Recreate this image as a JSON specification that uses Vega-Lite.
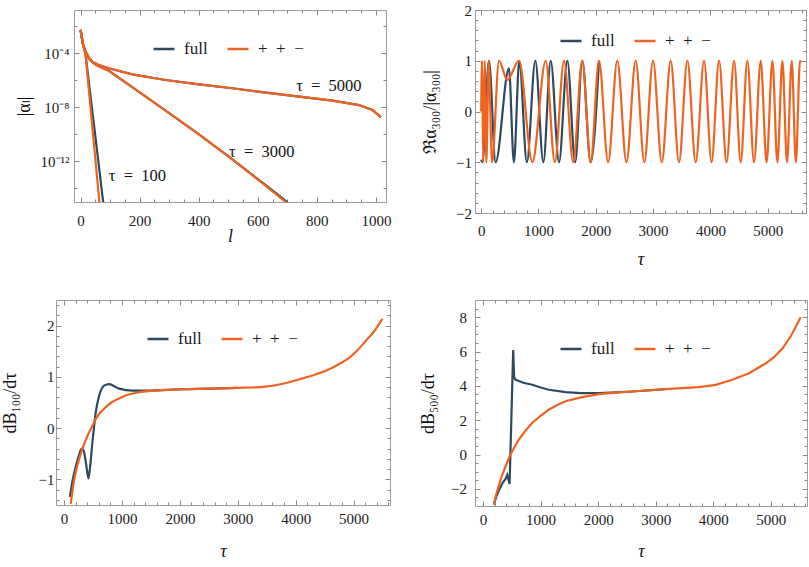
{
"$schema": "https://vega.github.io/schema/vega-lite/v6.json",
"padding": {"left": 0, "top": 2, "right": 0, "bottom": 0},
"spacing": 30,
"resolve": {"scale": {"color": "independent"}, "legend": {"color": "independent"}},
"config": {
  "view": {"stroke": "#9d9d9d", "strokeWidth": 1},
  "axis": {"domain": false, "grid": false, "zindex": 2, "ticks": true, "tickColor": "#888888", "tickWidth": 1, "labelFont": "Liberation Serif", "labelFontSize": 15, "labelColor": "#1a1a1a", "titleFont": "Liberation Serif", "titleFontSize": 18, "titleFontWeight": "normal", "titleColor": "#111111", "labelFlush": false, "labelOverlap": false},
  "legend": {"orient": "none", "direction": "horizontal", "title": null, "symbolType": "stroke", "symbolSize": 440, "symbolStrokeWidth": 2.5, "labelFont": "Liberation Serif", "labelFontSize": 17, "labelColor": "#1a1a1a", "labelOffset": 8, "columnPadding": 14}
},
"vconcat": [
 {"spacing": 0, "resolve": {"scale": {"color": "independent"}, "legend": {"color": "independent"}}, "hconcat": [
  {"width": 14, "height": 1, "data": {"values": []}, "mark": "point", "view": {"stroke": null}},
  {"width": 312, "height": 192,
   "data": {"values": [
    {"s":"full","tau":100,"l":0,"v":5.37e-3},{"s":"full","tau":100,"l":3,"v":2.51e-3},{"s":"full","tau":100,"l":8,"v":5.01e-4},{"s":"full","tau":100,"l":17,"v":8.51e-5},{"s":"full","tau":100,"l":30,"v":3.55e-7},{"s":"full","tau":100,"l":50,"v":7.94e-11},{"s":"full","tau":100,"l":80,"v":2.51e-16},
    {"s":"full","tau":3000,"l":0,"v":5.37e-3},{"s":"full","tau":3000,"l":3,"v":2.51e-3},{"s":"full","tau":3000,"l":8,"v":5.01e-4},{"s":"full","tau":3000,"l":17,"v":1.2e-4},{"s":"full","tau":3000,"l":28,"v":4.27e-5},{"s":"full","tau":3000,"l":45,"v":1.78e-5},{"s":"full","tau":3000,"l":60,"v":1.12e-5},{"s":"full","tau":3000,"l":96,"v":5.01e-6},{"s":"full","tau":3000,"l":175,"v":3.16e-7},{"s":"full","tau":3000,"l":288,"v":5.62e-9},{"s":"full","tau":3000,"l":401,"v":1e-10},{"s":"full","tau":3000,"l":514,"v":1.41e-12},{"s":"full","tau":3000,"l":627,"v":1.78e-14},{"s":"full","tau":3000,"l":700,"v":1e-15},
    {"s":"full","tau":5000,"l":0,"v":5.37e-3},{"s":"full","tau":5000,"l":3,"v":2.51e-3},{"s":"full","tau":5000,"l":8,"v":5.01e-4},{"s":"full","tau":5000,"l":17,"v":1.35e-4},{"s":"full","tau":5000,"l":28,"v":5.01e-5},{"s":"full","tau":5000,"l":39,"v":2.4e-5},{"s":"full","tau":5000,"l":60,"v":1.41e-5},{"s":"full","tau":5000,"l":96,"v":7.76e-6},{"s":"full","tau":5000,"l":175,"v":2.75e-6},{"s":"full","tau":5000,"l":288,"v":1.05e-6},{"s":"full","tau":5000,"l":401,"v":5.01e-7},{"s":"full","tau":5000,"l":514,"v":2.57e-7},{"s":"full","tau":5000,"l":627,"v":1.23e-7},{"s":"full","tau":5000,"l":740,"v":6.17e-8},{"s":"full","tau":5000,"l":853,"v":3.16e-8},{"s":"full","tau":5000,"l":943,"v":1.48e-8},{"s":"full","tau":5000,"l":988,"v":6.31e-9},{"s":"full","tau":5000,"l":1011,"v":2.45e-9},{"s":"full","tau":5000,"l":1016,"v":1.78e-9},
    {"s":"+\u2002+\u2002\u2212","tau":100,"l":0,"v":5.37e-3},{"s":"+\u2002+\u2002\u2212","tau":100,"l":3,"v":2.51e-3},{"s":"+\u2002+\u2002\u2212","tau":100,"l":8,"v":5.01e-4},{"s":"+\u2002+\u2002\u2212","tau":100,"l":17,"v":8.51e-5},{"s":"+\u2002+\u2002\u2212","tau":100,"l":30,"v":7.94e-8},{"s":"+\u2002+\u2002\u2212","tau":100,"l":45,"v":2.51e-11},{"s":"+\u2002+\u2002\u2212","tau":100,"l":66,"v":3.16e-16},
    {"s":"+\u2002+\u2002\u2212","tau":3000,"l":0,"v":5.37e-3},{"s":"+\u2002+\u2002\u2212","tau":3000,"l":3,"v":2.51e-3},{"s":"+\u2002+\u2002\u2212","tau":3000,"l":8,"v":5.01e-4},{"s":"+\u2002+\u2002\u2212","tau":3000,"l":17,"v":1.2e-4},{"s":"+\u2002+\u2002\u2212","tau":3000,"l":28,"v":4.27e-5},{"s":"+\u2002+\u2002\u2212","tau":3000,"l":45,"v":1.78e-5},{"s":"+\u2002+\u2002\u2212","tau":3000,"l":60,"v":1.12e-5},{"s":"+\u2002+\u2002\u2212","tau":3000,"l":96,"v":5.01e-6},{"s":"+\u2002+\u2002\u2212","tau":3000,"l":175,"v":3.16e-7},{"s":"+\u2002+\u2002\u2212","tau":3000,"l":288,"v":5.62e-9},{"s":"+\u2002+\u2002\u2212","tau":3000,"l":401,"v":1e-10},{"s":"+\u2002+\u2002\u2212","tau":3000,"l":514,"v":1.41e-12},{"s":"+\u2002+\u2002\u2212","tau":3000,"l":627,"v":1.58e-14},{"s":"+\u2002+\u2002\u2212","tau":3000,"l":700,"v":7.94e-16},
    {"s":"+\u2002+\u2002\u2212","tau":5000,"l":0,"v":5.37e-3},{"s":"+\u2002+\u2002\u2212","tau":5000,"l":3,"v":2.51e-3},{"s":"+\u2002+\u2002\u2212","tau":5000,"l":8,"v":5.01e-4},{"s":"+\u2002+\u2002\u2212","tau":5000,"l":17,"v":1.35e-4},{"s":"+\u2002+\u2002\u2212","tau":5000,"l":28,"v":5.01e-5},{"s":"+\u2002+\u2002\u2212","tau":5000,"l":39,"v":2.4e-5},{"s":"+\u2002+\u2002\u2212","tau":5000,"l":60,"v":1.41e-5},{"s":"+\u2002+\u2002\u2212","tau":5000,"l":96,"v":7.76e-6},{"s":"+\u2002+\u2002\u2212","tau":5000,"l":175,"v":2.75e-6},{"s":"+\u2002+\u2002\u2212","tau":5000,"l":288,"v":1.05e-6},{"s":"+\u2002+\u2002\u2212","tau":5000,"l":401,"v":5.01e-7},{"s":"+\u2002+\u2002\u2212","tau":5000,"l":514,"v":2.57e-7},{"s":"+\u2002+\u2002\u2212","tau":5000,"l":627,"v":1.23e-7},{"s":"+\u2002+\u2002\u2212","tau":5000,"l":740,"v":6.17e-8},{"s":"+\u2002+\u2002\u2212","tau":5000,"l":853,"v":3.16e-8},{"s":"+\u2002+\u2002\u2212","tau":5000,"l":943,"v":1.48e-8},{"s":"+\u2002+\u2002\u2212","tau":5000,"l":988,"v":6.31e-9},{"s":"+\u2002+\u2002\u2212","tau":5000,"l":1011,"v":2.45e-9},{"s":"+\u2002+\u2002\u2212","tau":5000,"l":1016,"v":1.78e-9}
   ]},
   "layer": [
    {"mark": {"type": "line", "strokeWidth": 2.2, "clip": true},
     "encoding": {
      "x": {"field": "l", "type": "quantitative", "scale": {"domain": [-22, 1034], "nice": false, "zero": false},
            "axis": {"orient": "bottom", "offset": -5, "values": [0,200,400,600,800,1000], "labelExpr": "'' + datum.value", "tickSize": 5, "labelPadding": 11, "title": "l", "titleFontStyle": "italic", "titlePadding": 9, "minExtent": 21, "maxExtent": 21}},
      "y": {"field": "v", "type": "quantitative", "scale": {"type": "log", "domain": [1e-15, 0.158], "nice": false},
            "axis": {"orient": "left", "offset": -5, "values": [1e-12,1e-8,1e-4], "labelExpr": "round(log(datum.value)/LN10) == -4 ? '10\u207b\u2074' : round(log(datum.value)/LN10) == -8 ? '10\u207b\u2078' : '10\u207b\u00b9\u00b2'", "tickSize": 5, "labelPadding": 5, "title": "|\u03b1\u2097|", "titleFont": "Liberation Serif, DejaVu Sans, Noto Sans", "titlePadding": 1, "minExtent": 45, "maxExtent": 45}},
      "color": {"field": "s", "type": "nominal", "scale": {"domain": ["full", "+\u2002+\u2002\u2212"], "range": ["#2e4a5f", "#ef6321"]}, "legend": {"legendX": 78, "legendY": 27}},
      "detail": {"field": "tau"}
     }},
    {"mark": {"type": "point", "opacity": 0},
     "encoding": {
      "x": {"field": "l", "type": "quantitative", "scale": {"domain": [-22, 1034], "nice": false, "zero": false},
            "axis": {"orient": "top", "offset": -5, "values": [0,200,400,600,800,1000], "labels": false, "title": null, "tickSize": 5, "minExtent": 0, "maxExtent": 0}},
      "y": {"field": "v", "type": "quantitative", "scale": {"type": "log", "domain": [1e-15, 0.158], "nice": false},
            "axis": {"orient": "right", "offset": -5, "values": [1e-12,1e-8,1e-4], "labels": false, "title": null, "tickSize": 5, "minExtent": 38.8, "maxExtent": 38.8}}
     }},
    {"mark": {"type": "point", "opacity": 0},
     "encoding": {
      "x": {"field": "l", "type": "quantitative", "scale": {"domain": [-22, 1034], "nice": false, "zero": false},
            "axis": {"orient": "bottom", "offset": -3, "values": [50,100,150,250,300,350,450,500,550,650,700,750,850,900,950], "labels": false, "title": null, "tickSize": 3, "minExtent": 0, "maxExtent": 0}},
      "y": {"field": "v", "type": "quantitative", "scale": {"type": "log", "domain": [1e-15, 0.158], "nice": false},
            "axis": {"orient": "left", "offset": -3, "values": [1e-14,1e-10,1e-6,1e-2], "labels": false, "title": null, "tickSize": 3, "minExtent": 0, "maxExtent": 0}}
     }},
    {"mark": {"type": "point", "opacity": 0},
     "encoding": {
      "x": {"field": "l", "type": "quantitative", "scale": {"domain": [-22, 1034], "nice": false, "zero": false},
            "axis": {"orient": "top", "offset": -3, "values": [50,100,150,250,300,350,450,500,550,650,700,750,850,900,950], "labels": false, "title": null, "tickSize": 3, "minExtent": 0, "maxExtent": 0}},
      "y": {"field": "v", "type": "quantitative", "scale": {"type": "log", "domain": [1e-15, 0.158], "nice": false},
            "axis": {"orient": "right", "offset": -3, "values": [1e-14,1e-10,1e-6,1e-2], "labels": false, "title": null, "tickSize": 3, "minExtent": 0, "maxExtent": 0}}
     }},
    {"data": {"values": [
      {"l": 730, "v": 3.55e-7, "txt": "\u03c4\u2002=\u20025000"},
      {"l": 503, "v": 5.4e-12, "txt": "\u03c4\u2002=\u20023000"},
      {"l": 96, "v": 9.1e-14, "txt": "\u03c4\u2002=\u2002100"}
     ]},
     "mark": {"type": "text", "align": "left", "baseline": "middle", "font": "Liberation Serif", "fontSize": 16.5, "color": "#111111"},
     "encoding": {
      "x": {"field": "l", "type": "quantitative", "axis": null},
      "y": {"field": "v", "type": "quantitative", "scale": {"type": "log"}, "axis": null},
      "text": {"field": "txt"}
     }}
   ],
   "resolve": {"axis": {"x": "independent", "y": "independent"}}
  },
  {"width": 331, "height": 203,
   "data": {"values": [
    {"s":"full","t":0,"v":-0.95},{"s":"full","t":20,"v":-1},{"s":"full","t":136,"v":1},{"s":"full","t":251,"v":-1},{"s":"full","t":484,"v":0.85},{"s":"full","t":571,"v":-1},{"s":"full","t":665,"v":1},{"s":"full","t":797,"v":-1},{"s":"full","t":945,"v":1},{"s":"full","t":1085,"v":-1},{"s":"full","t":1213,"v":1},{"s":"full","t":1358,"v":-1},{"s":"full","t":1503,"v":1},{"s":"full","t":1640,"v":-1},{"s":"full","t":1764,"v":1},{"s":"full","t":1910,"v":-1},{"s":"full","t":2056,"v":1},
    {"s":"+\u2002+\u2002\u2212","t":0,"v":0},{"s":"+\u2002+\u2002\u2212","t":15,"v":1},{"s":"+\u2002+\u2002\u2212","t":35,"v":-1},{"s":"+\u2002+\u2002\u2212","t":60,"v":1},{"s":"+\u2002+\u2002\u2212","t":90,"v":-1},{"s":"+\u2002+\u2002\u2212","t":130,"v":1},{"s":"+\u2002+\u2002\u2212","t":190,"v":-1},{"s":"+\u2002+\u2002\u2212","t":311,"v":1},{"s":"+\u2002+\u2002\u2212","t":455,"v":0.62},{"s":"+\u2002+\u2002\u2212","t":660,"v":1},{"s":"+\u2002+\u2002\u2212","t":893,"v":-1},{"s":"+\u2002+\u2002\u2212","t":1126,"v":1},{"s":"+\u2002+\u2002\u2212","t":1285,"v":-1},{"s":"+\u2002+\u2002\u2212","t":1445,"v":1},{"s":"+\u2002+\u2002\u2212","t":1605,"v":-1},{"s":"+\u2002+\u2002\u2212","t":1764,"v":1},{"s":"+\u2002+\u2002\u2212","t":1910,"v":-1},{"s":"+\u2002+\u2002\u2212","t":2056,"v":1},{"s":"+\u2002+\u2002\u2212","t":2215,"v":-1},{"s":"+\u2002+\u2002\u2212","t":2375,"v":1},{"s":"+\u2002+\u2002\u2212","t":2535,"v":-1},{"s":"+\u2002+\u2002\u2212","t":2696,"v":1},{"s":"+\u2002+\u2002\u2212","t":2847,"v":-1},{"s":"+\u2002+\u2002\u2212","t":2998,"v":1},{"s":"+\u2002+\u2002\u2212","t":3152,"v":-1},{"s":"+\u2002+\u2002\u2212","t":3307,"v":1},{"s":"+\u2002+\u2002\u2212","t":3452,"v":-1},{"s":"+\u2002+\u2002\u2212","t":3598,"v":1},{"s":"+\u2002+\u2002\u2212","t":3743,"v":-1},{"s":"+\u2002+\u2002\u2212","t":3889,"v":1},{"s":"+\u2002+\u2002\u2212","t":4020,"v":-1},{"s":"+\u2002+\u2002\u2212","t":4151,"v":1},{"s":"+\u2002+\u2002\u2212","t":4282,"v":-1},{"s":"+\u2002+\u2002\u2212","t":4413,"v":1},{"s":"+\u2002+\u2002\u2212","t":4529,"v":-1},{"s":"+\u2002+\u2002\u2212","t":4645,"v":1},{"s":"+\u2002+\u2002\u2212","t":4761,"v":-1},{"s":"+\u2002+\u2002\u2212","t":4878,"v":1},{"s":"+\u2002+\u2002\u2212","t":4980,"v":-1},{"s":"+\u2002+\u2002\u2212","t":5082,"v":1},{"s":"+\u2002+\u2002\u2212","t":5169,"v":-1},{"s":"+\u2002+\u2002\u2212","t":5256,"v":1},{"s":"+\u2002+\u2002\u2212","t":5337,"v":-1},{"s":"+\u2002+\u2002\u2212","t":5419,"v":1},{"s":"+\u2002+\u2002\u2212","t":5491,"v":-1},{"s":"+\u2002+\u2002\u2212","t":5564,"v":1},{"s":"+\u2002+\u2002\u2212","t":5576,"v":0.97}
   ]},
   "layer": [
    {"mark": {"type": "line", "strokeWidth": 2.2, "clip": true, "interpolate": "monotone"},
     "encoding": {
      "x": {"field": "t", "type": "quantitative", "scale": {"domain": [-108, 5668], "nice": false, "zero": false},
            "axis": {"orient": "bottom", "offset": -5, "values": [0,1000,2000,3000,4000,5000], "labelExpr": "'' + datum.value", "tickSize": 5, "labelPadding": 10, "title": "\u03c4", "titleFontStyle": "italic", "titlePadding": 21, "minExtent": 21, "maxExtent": 21}},
      "y": {"field": "v", "type": "quantitative", "scale": {"domain": [-2, 2], "nice": false},
            "axis": {"orient": "left", "offset": -5, "values": [-2,-1,0,1,2], "labelExpr": "datum.value < 0 ? '\u2212' + abs(datum.value) : '' + datum.value", "tickSize": 5, "labelPadding": 3.5, "title": "\u211c\u03b1\u2083\u2080\u2080/|\u03b1\u2083\u2080\u2080|", "titlePadding": 5.2, "minExtent": 35, "maxExtent": 35}},
      "color": {"field": "s", "type": "nominal", "scale": {"domain": ["full", "+\u2002+\u2002\u2212"], "range": ["#2e4a5f", "#ef6321"]}, "legend": {"legendX": 84, "legendY": 19}}
     }},
    {"mark": {"type": "point", "opacity": 0},
     "encoding": {
      "x": {"field": "t", "type": "quantitative", "scale": {"domain": [-108, 5668], "nice": false, "zero": false},
            "axis": {"orient": "top", "offset": -5, "values": [0,1000,2000,3000,4000,5000], "labels": false, "title": null, "tickSize": 5, "minExtent": 0, "maxExtent": 0}},
      "y": {"field": "v", "type": "quantitative", "scale": {"domain": [-2, 2], "nice": false},
            "axis": {"orient": "right", "offset": -5, "values": [-2,-1,0,1,2], "labels": false, "title": null, "tickSize": 5, "minExtent": 0, "maxExtent": 0}}
     }},
    {"mark": {"type": "point", "opacity": 0},
     "encoding": {
      "x": {"field": "t", "type": "quantitative", "scale": {"domain": [-108, 5668], "nice": false, "zero": false},
            "axis": {"orient": "bottom", "offset": -3, "values": [200,400,600,800,1200,1400,1600,1800,2200,2400,2600,2800,3200,3400,3600,3800,4200,4400,4600,4800,5200,5400,5600], "labels": false, "title": null, "tickSize": 3, "minExtent": 0, "maxExtent": 0}},
      "y": {"field": "v", "type": "quantitative", "scale": {"domain": [-2, 2], "nice": false},
            "axis": {"orient": "left", "offset": -3, "values": [-1.8,-1.6,-1.4,-1.2,-0.8,-0.6,-0.4,-0.2,0.2,0.4,0.6,0.8,1.2,1.4,1.6,1.8], "labels": false, "title": null, "tickSize": 3, "minExtent": 0, "maxExtent": 0}}
     }},
    {"mark": {"type": "point", "opacity": 0},
     "encoding": {
      "x": {"field": "t", "type": "quantitative", "scale": {"domain": [-108, 5668], "nice": false, "zero": false},
            "axis": {"orient": "top", "offset": -3, "values": [200,400,600,800,1200,1400,1600,1800,2200,2400,2600,2800,3200,3400,3600,3800,4200,4400,4600,4800,5200,5400,5600], "labels": false, "title": null, "tickSize": 3, "minExtent": 0, "maxExtent": 0}},
      "y": {"field": "v", "type": "quantitative", "scale": {"domain": [-2, 2], "nice": false},
            "axis": {"orient": "right", "offset": -3, "values": [-1.8,-1.6,-1.4,-1.2,-0.8,-0.6,-0.4,-0.2,0.2,0.4,0.6,0.8,1.2,1.4,1.6,1.8], "labels": false, "title": null, "tickSize": 3, "minExtent": 0, "maxExtent": 0}}
     }}
   ],
   "resolve": {"axis": {"x": "independent", "y": "independent"}}
  }
 ]},
 {"spacing": 0, "resolve": {"scale": {"color": "independent"}, "legend": {"color": "independent"}}, "hconcat": [
  {"width": 1, "height": 1, "data": {"values": []}, "mark": "point", "view": {"stroke": null}},
  {"width": 334, "height": 205,
   "data": {"values": [
    {"s":"full","t":100,"v":-1.34},{"s":"full","t":150,"v":-1.0},{"s":"full","t":202,"v":-0.75},{"s":"full","t":250,"v":-0.55},{"s":"full","t":305,"v":-0.40},{"s":"full","t":340,"v":-0.45},{"s":"full","t":380,"v":-0.7},{"s":"full","t":420,"v":-0.98},{"s":"full","t":445,"v":-0.8},{"s":"full","t":490,"v":-0.27},{"s":"full","t":547,"v":0.31},{"s":"full","t":605,"v":0.63},{"s":"full","t":691,"v":0.83},{"s":"full","t":777,"v":0.86},{"s":"full","t":860,"v":0.82},{"s":"full","t":950,"v":0.77},{"s":"full","t":1180,"v":0.73},{"s":"full","t":1468,"v":0.73},{"s":"full","t":2044,"v":0.76},{"s":"full","t":2500,"v":0.77},{"s":"full","t":3000,"v":0.785},
    {"s":"+\u2002+\u2002\u2212","t":115,"v":-1.48},{"s":"+\u2002+\u2002\u2212","t":160,"v":-1.1},{"s":"+\u2002+\u2002\u2212","t":202,"v":-0.85},{"s":"+\u2002+\u2002\u2212","t":260,"v":-0.6},{"s":"+\u2002+\u2002\u2212","t":317,"v":-0.40},{"s":"+\u2002+\u2002\u2212","t":375,"v":-0.23},{"s":"+\u2002+\u2002\u2212","t":432,"v":-0.08},{"s":"+\u2002+\u2002\u2212","t":490,"v":0.05},{"s":"+\u2002+\u2002\u2212","t":547,"v":0.18},{"s":"+\u2002+\u2002\u2212","t":630,"v":0.31},{"s":"+\u2002+\u2002\u2212","t":720,"v":0.41},{"s":"+\u2002+\u2002\u2212","t":830,"v":0.51},{"s":"+\u2002+\u2002\u2212","t":950,"v":0.58},{"s":"+\u2002+\u2002\u2212","t":1100,"v":0.65},{"s":"+\u2002+\u2002\u2212","t":1296,"v":0.70},{"s":"+\u2002+\u2002\u2212","t":1500,"v":0.725},{"s":"+\u2002+\u2002\u2212","t":1756,"v":0.745},{"s":"+\u2002+\u2002\u2212","t":2000,"v":0.755},{"s":"+\u2002+\u2002\u2212","t":2500,"v":0.77},{"s":"+\u2002+\u2002\u2212","t":3000,"v":0.785},{"s":"+\u2002+\u2002\u2212","t":3483,"v":0.81},{"s":"+\u2002+\u2002\u2212","t":3800,"v":0.87},{"s":"+\u2002+\u2002\u2212","t":4059,"v":0.95},{"s":"+\u2002+\u2002\u2212","t":4350,"v":1.05},{"s":"+\u2002+\u2002\u2212","t":4635,"v":1.18},{"s":"+\u2002+\u2002\u2212","t":4800,"v":1.28},{"s":"+\u2002+\u2002\u2212","t":4923,"v":1.37},{"s":"+\u2002+\u2002\u2212","t":5050,"v":1.5},{"s":"+\u2002+\u2002\u2212","t":5210,"v":1.70},{"s":"+\u2002+\u2002\u2212","t":5350,"v":1.88},{"s":"+\u2002+\u2002\u2212","t":5500,"v":2.13}
   ]},
   "layer": [
    {"mark": {"type": "line", "strokeWidth": 2.2, "clip": true, "interpolate": "monotone"},
     "encoding": {
      "x": {"field": "t", "type": "quantitative", "scale": {"domain": [-140, 5630], "nice": false, "zero": false},
            "axis": {"orient": "bottom", "offset": -5, "values": [0,1000,2000,3000,4000,5000], "labelExpr": "'' + datum.value", "tickSize": 5, "labelPadding": 6.5, "title": "\u03c4", "titleFontStyle": "italic", "titlePadding": 21, "minExtent": 21, "maxExtent": 21}},
      "y": {"field": "v", "type": "quantitative", "scale": {"domain": [-1.5, 2.5], "nice": false},
            "axis": {"orient": "left", "offset": -5, "values": [-1,0,1,2], "labelExpr": "datum.value < 0 ? '\u2212' + abs(datum.value) : '' + datum.value", "tickSize": 5, "labelPadding": 2, "title": "dB\u2081\u2080\u2080/d\u03c4", "titlePadding": 7.5, "minExtent": 34, "maxExtent": 34}},
      "color": {"field": "s", "type": "nominal", "scale": {"domain": ["full", "+\u2002+\u2002\u2212"], "range": ["#2e4a5f", "#ef6321"]}, "legend": {"legendX": 90, "legendY": 27}}
     }},
    {"mark": {"type": "point", "opacity": 0},
     "encoding": {
      "x": {"field": "t", "type": "quantitative", "scale": {"domain": [-140, 5630], "nice": false, "zero": false},
            "axis": {"orient": "top", "offset": -5, "values": [0,1000,2000,3000,4000,5000], "labels": false, "title": null, "tickSize": 5, "minExtent": 0, "maxExtent": 0}},
      "y": {"field": "v", "type": "quantitative", "scale": {"domain": [-1.5, 2.5], "nice": false},
            "axis": {"orient": "right", "offset": -5, "values": [-1,0,1,2], "labels": false, "title": null, "tickSize": 5, "minExtent": 32, "maxExtent": 32}}
     }},
    {"mark": {"type": "point", "opacity": 0},
     "encoding": {
      "x": {"field": "t", "type": "quantitative", "scale": {"domain": [-140, 5630], "nice": false, "zero": false},
            "axis": {"orient": "bottom", "offset": -3, "values": [200,400,600,800,1200,1400,1600,1800,2200,2400,2600,2800,3200,3400,3600,3800,4200,4400,4600,4800,5200,5400,5600], "labels": false, "title": null, "tickSize": 3, "minExtent": 0, "maxExtent": 0}},
      "y": {"field": "v", "type": "quantitative", "scale": {"domain": [-1.5, 2.5], "nice": false},
            "axis": {"orient": "left", "offset": -3, "values": [-1.4,-1.2,-0.8,-0.6,-0.4,-0.2,0.2,0.4,0.6,0.8,1.2,1.4,1.6,1.8,2.2,2.4], "labels": false, "title": null, "tickSize": 3, "minExtent": 0, "maxExtent": 0}}
     }},
    {"mark": {"type": "point", "opacity": 0},
     "encoding": {
      "x": {"field": "t", "type": "quantitative", "scale": {"domain": [-140, 5630], "nice": false, "zero": false},
            "axis": {"orient": "top", "offset": -3, "values": [200,400,600,800,1200,1400,1600,1800,2200,2400,2600,2800,3200,3400,3600,3800,4200,4400,4600,4800,5200,5400,5600], "labels": false, "title": null, "tickSize": 3, "minExtent": 0, "maxExtent": 0}},
      "y": {"field": "v", "type": "quantitative", "scale": {"domain": [-1.5, 2.5], "nice": false},
            "axis": {"orient": "right", "offset": -3, "values": [-1.4,-1.2,-0.8,-0.6,-0.4,-0.2,0.2,0.4,0.6,0.8,1.2,1.4,1.6,1.8,2.2,2.4], "labels": false, "title": null, "tickSize": 3, "minExtent": 0, "maxExtent": 0}}
     }}
   ],
   "resolve": {"axis": {"x": "independent", "y": "independent"}}
  },
  {"width": 332, "height": 206,
   "data": {"values": [
    {"s":"full","t":188,"v":-2.92},{"s":"full","t":230,"v":-2.45},{"s":"full","t":275,"v":-2.1},{"s":"full","t":340,"v":-1.65},{"s":"full","t":391,"v":-1.42},{"s":"full","t":420,"v":-1.19},{"s":"full","t":461,"v":-1.71},{"s":"full","t":524,"v":6.08},{"s":"full","t":540,"v":4.5},{"s":"full","t":565,"v":4.35},{"s":"full","t":600,"v":4.31},{"s":"full","t":700,"v":4.18},{"s":"full","t":855,"v":4.06},{"s":"full","t":1000,"v":3.9},{"s":"full","t":1145,"v":3.77},{"s":"full","t":1435,"v":3.63},{"s":"full","t":1700,"v":3.58},{"s":"full","t":2015,"v":3.58},{"s":"full","t":2300,"v":3.62},{"s":"full","t":2594,"v":3.67},{"s":"full","t":3174,"v":3.81},
    {"s":"+\u2002+\u2002\u2212","t":188,"v":-2.92},{"s":"+\u2002+\u2002\u2212","t":230,"v":-2.3},{"s":"+\u2002+\u2002\u2212","t":275,"v":-1.81},{"s":"+\u2002+\u2002\u2212","t":320,"v":-1.3},{"s":"+\u2002+\u2002\u2212","t":362,"v":-0.94},{"s":"+\u2002+\u2002\u2212","t":420,"v":-0.45},{"s":"+\u2002+\u2002\u2212","t":478,"v":0.02},{"s":"+\u2002+\u2002\u2212","t":550,"v":0.45},{"s":"+\u2002+\u2002\u2212","t":623,"v":0.88},{"s":"+\u2002+\u2002\u2212","t":740,"v":1.4},{"s":"+\u2002+\u2002\u2212","t":855,"v":1.85},{"s":"+\u2002+\u2002\u2212","t":1000,"v":2.25},{"s":"+\u2002+\u2002\u2212","t":1145,"v":2.62},{"s":"+\u2002+\u2002\u2212","t":1290,"v":2.88},{"s":"+\u2002+\u2002\u2212","t":1435,"v":3.10},{"s":"+\u2002+\u2002\u2212","t":1700,"v":3.33},{"s":"+\u2002+\u2002\u2212","t":2015,"v":3.52},{"s":"+\u2002+\u2002\u2212","t":2300,"v":3.6},{"s":"+\u2002+\u2002\u2212","t":2594,"v":3.67},{"s":"+\u2002+\u2002\u2212","t":3174,"v":3.81},{"s":"+\u2002+\u2002\u2212","t":3754,"v":3.92},{"s":"+\u2002+\u2002\u2212","t":4043,"v":4.06},{"s":"+\u2002+\u2002\u2212","t":4333,"v":4.35},{"s":"+\u2002+\u2002\u2212","t":4623,"v":4.73},{"s":"+\u2002+\u2002\u2212","t":4913,"v":5.31},{"s":"+\u2002+\u2002\u2212","t":5050,"v":5.65},{"s":"+\u2002+\u2002\u2212","t":5203,"v":6.17},{"s":"+\u2002+\u2002\u2212","t":5350,"v":6.9},{"s":"+\u2002+\u2002\u2212","t":5520,"v":8.0}
   ]},
   "layer": [
    {"mark": {"type": "line", "strokeWidth": 2.2, "clip": true},
     "encoding": {
      "x": {"field": "t", "type": "quantitative", "scale": {"domain": [-140, 5630], "nice": false, "zero": false},
            "axis": {"orient": "bottom", "offset": -5, "values": [0,1000,2000,3000,4000,5000], "labelExpr": "'' + datum.value", "tickSize": 5, "labelPadding": 6.5, "title": "\u03c4", "titleFontStyle": "italic", "titlePadding": 20, "minExtent": 21, "maxExtent": 21}},
      "y": {"field": "v", "type": "quantitative", "scale": {"domain": [-3, 9], "nice": false},
            "axis": {"orient": "left", "offset": -5, "values": [-2,0,2,4,6,8], "labelExpr": "datum.value < 0 ? '\u2212' + abs(datum.value) : '' + datum.value", "tickSize": 5, "labelPadding": 8.5, "title": "dB\u2085\u2080\u2080/d\u03c4", "titlePadding": 8, "minExtent": 35, "maxExtent": 35}},
      "color": {"field": "s", "type": "nominal", "scale": {"domain": ["full", "+\u2002+\u2002\u2212"], "range": ["#2e4a5f", "#ef6321"]}, "legend": {"legendX": 84, "legendY": 37}}
     }},
    {"mark": {"type": "point", "opacity": 0},
     "encoding": {
      "x": {"field": "t", "type": "quantitative", "scale": {"domain": [-140, 5630], "nice": false, "zero": false},
            "axis": {"orient": "top", "offset": -5, "values": [0,1000,2000,3000,4000,5000], "labels": false, "title": null, "tickSize": 5, "minExtent": 0, "maxExtent": 0}},
      "y": {"field": "v", "type": "quantitative", "scale": {"domain": [-3, 9], "nice": false},
            "axis": {"orient": "right", "offset": -5, "values": [-2,0,2,4,6,8], "labels": false, "title": null, "tickSize": 5, "minExtent": 0, "maxExtent": 0}}
     }},
    {"mark": {"type": "point", "opacity": 0},
     "encoding": {
      "x": {"field": "t", "type": "quantitative", "scale": {"domain": [-140, 5630], "nice": false, "zero": false},
            "axis": {"orient": "bottom", "offset": -3, "values": [200,400,600,800,1200,1400,1600,1800,2200,2400,2600,2800,3200,3400,3600,3800,4200,4400,4600,4800,5200,5400,5600], "labels": false, "title": null, "tickSize": 3, "minExtent": 0, "maxExtent": 0}},
      "y": {"field": "v", "type": "quantitative", "scale": {"domain": [-3, 9], "nice": false},
            "axis": {"orient": "left", "offset": -3, "values": [-2.5,-1.5,-1,-0.5,0.5,1,1.5,2.5,3,3.5,4.5,5,5.5,6.5,7,7.5,8.5], "labels": false, "title": null, "tickSize": 3, "minExtent": 0, "maxExtent": 0}}
     }},
    {"mark": {"type": "point", "opacity": 0},
     "encoding": {
      "x": {"field": "t", "type": "quantitative", "scale": {"domain": [-140, 5630], "nice": false, "zero": false},
            "axis": {"orient": "top", "offset": -3, "values": [200,400,600,800,1200,1400,1600,1800,2200,2400,2600,2800,3200,3400,3600,3800,4200,4400,4600,4800,5200,5400,5600], "labels": false, "title": null, "tickSize": 3, "minExtent": 0, "maxExtent": 0}},
      "y": {"field": "v", "type": "quantitative", "scale": {"domain": [-3, 9], "nice": false},
            "axis": {"orient": "right", "offset": -3, "values": [-2.5,-1.5,-1,-0.5,0.5,1,1.5,2.5,3,3.5,4.5,5,5.5,6.5,7,7.5,8.5], "labels": false, "title": null, "tickSize": 3, "minExtent": 0, "maxExtent": 0}}
     }}
   ],
   "resolve": {"axis": {"x": "independent", "y": "independent"}}
  }
 ]}
]
}
